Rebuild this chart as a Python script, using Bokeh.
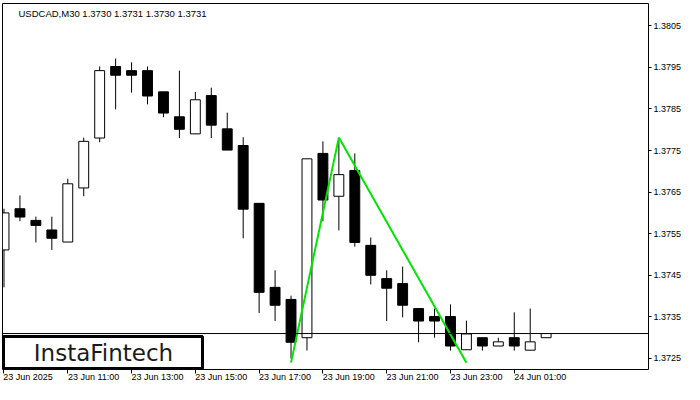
from bokeh.plotting import figure
from bokeh.models import (FixedTicker, NumeralTickFormatter, Span, Label,
                          BoxAnnotation, Range1d, ColumnDataSource, LinearAxis)
from bokeh.embed import file_html
from bokeh.resources import INLINE

# ---- data (USDCAD M30) ----
opens = [1.37511, 1.37610, 1.37582, 1.37559, 1.37530, 1.37660, 1.37780, 1.37952,
         1.37942, 1.37942, 1.37891, 1.37831, 1.37790, 1.37882, 1.37802, 1.37762,
         1.37623, 1.37421, 1.37392, 1.37300, 1.37743, 1.37640, 1.37702, 1.37522,
         1.37442, 1.37430, 1.37370, 1.37351, 1.37351, 1.37271, 1.37300, 1.37280,
         1.37300, 1.37270, 1.37300]
highs = [1.37610, 1.37642, 1.37591, 1.37591, 1.37682, 1.37781, 1.37952, 1.37971,
         1.37962, 1.37952, 1.37891, 1.37942, 1.37891, 1.37901, 1.37841, 1.37782,
         1.37623, 1.37462, 1.37401, 1.37730, 1.37772, 1.37774, 1.37743, 1.37541,
         1.37462, 1.37471, 1.37370, 1.37370, 1.37380, 1.37341, 1.37300, 1.37300,
         1.37361, 1.37370, 1.37310]
lows = [1.37421, 1.37580, 1.37529, 1.37511, 1.37530, 1.37640, 1.37770, 1.37849,
        1.37889, 1.37861, 1.37830, 1.37780, 1.37790, 1.37780, 1.37751, 1.37539,
        1.37359, 1.37340, 1.37250, 1.37269, 1.37580, 1.37558, 1.37519, 1.37428,
        1.37340, 1.37349, 1.37289, 1.37300, 1.37269, 1.37271, 1.37269, 1.37280,
        1.37269, 1.37270, 1.37300]
closes = [1.37600, 1.37590, 1.37570, 1.37539, 1.37670, 1.37772, 1.37942, 1.37931,
          1.37931, 1.37881, 1.37840, 1.37801, 1.37872, 1.37811, 1.37751, 1.37609,
          1.37409, 1.37378, 1.37289, 1.37730, 1.37631, 1.37692, 1.37529, 1.37450,
          1.37419, 1.37378, 1.37340, 1.37340, 1.37280, 1.37309, 1.37280, 1.37290,
          1.37280, 1.37290, 1.37310]

x_tick_index = [0, 4, 8, 12, 16, 20, 24, 28, 32]
x_tick_labels = ["23 Jun 2025", "23 Jun 11:00", "23 Jun 13:00", "23 Jun 15:00",
                 "23 Jun 17:00", "23 Jun 19:00", "23 Jun 21:00", "23 Jun 23:00",
                 "24 Jun 01:00"]
y_ticks = [1.3725, 1.3735, 1.3745, 1.3755, 1.3765, 1.3775, 1.3785, 1.3795, 1.3805]

pattern_index = [18, 21, 29]
pattern_price = [1.37240, 1.37781, 1.37240]

bid_price = 1.3731
chart_title = "USDCAD,M30  1.3730 1.3731 1.3730 1.3731"
logo_text = "InstaFintech"

# ---- derived ----
n = len(opens)
xs = list(range(n))
tops = [max(o, c) for o, c in zip(opens, closes)]
bottoms = [min(o, c) for o, c in zip(opens, closes)]
colors = ["white" if c >= o else "black" for o, c in zip(opens, closes)]
src = ColumnDataSource(dict(x=xs, high=highs, low=lows, top=tops, bottom=bottoms, color=colors))

FONT = "Liberation Sans"
W, H = 684, 384
BL, BT, BR, BB = 2, 3, 33, 15
FW, FH = W - BL - BR, H - BT - BB

p = figure(width=W, height=H, output_backend="svg", toolbar_location=None,
           x_range=Range1d(-0.094, -0.094 + FW / 16.02),
           y_range=Range1d(1.381034 - FH * 0.00002404, 1.381034),
           x_axis_location=None, y_axis_location="right",
           min_border_left=BL, min_border_top=BT, min_border_right=BR, min_border_bottom=BB)
p.background_fill_color = "white"
p.border_fill_color = "white"
p.outline_line_color = "black"
p.outline_line_width = 1
for g in p.grid:
    g.visible = False

# right price axis
ya = p.yaxis[0]
ya.ticker = FixedTicker(ticks=y_ticks)
ya.formatter = NumeralTickFormatter(format="0.0000")
ya.axis_line_color = None
ya.major_tick_out = 3
ya.major_tick_in = 0
ya.major_tick_line_color = "black"
ya.minor_tick_out = 0
ya.minor_tick_in = 0
ya.major_label_standoff = 2
ya.major_label_text_font = FONT
ya.major_label_text_font_size = "9px"
ya.major_label_text_color = "black"

# bottom time axis: labels start at the tick like MT4
label_shift = [1.5] + [1.625] * (len(x_tick_index) - 1)
label_pos = [t + s for t, s in zip(x_tick_index, label_shift)]
xa = LinearAxis(ticker=FixedTicker(ticks=label_pos, minor_ticks=x_tick_index),
                major_label_overrides={pos: lab for pos, lab in zip(label_pos, x_tick_labels)})
xa.axis_line_color = None
xa.major_tick_out = 0
xa.major_tick_in = 0
xa.minor_tick_out = 4
xa.minor_tick_in = 0
xa.minor_tick_line_color = "black"
xa.major_label_standoff = -2
xa.major_label_text_font = FONT
xa.major_label_text_font_size = "9px"
xa.major_label_text_color = "black"
p.add_layout(xa, "below")

# candles
p.segment(x0="x", y0="low", x1="x", y1="high", source=src, line_color="black", line_width=1)
p.vbar(x="x", width=0.62, top="top", bottom="bottom", source=src,
       fill_color="color", line_color="black", line_width=1)

# bid line
p.add_layout(Span(location=bid_price, dimension="width", line_color="black", line_width=1))

# pattern
p.line(pattern_index, pattern_price, line_color="#00e600", line_width=2)

# title
p.add_layout(Label(x=16, y=FH - 4, x_units="screen", y_units="screen", text=chart_title,
                   text_font=FONT, text_font_size="9.5px", text_color="black",
                   text_baseline="top", text_align="left"))

# price tag on the axis
p.add_layout(Label(x=FW + 1, y=bid_price, x_units="screen", y_units="data",
                   text=f"{bid_price:.4f}", text_font=FONT, text_font_size="9px",
                   text_color="white", background_fill_color="black",
                   text_baseline="middle", text_align="left",
                   padding=dict(left=3, right=3, top=1, bottom=1)))

# logo box
p.add_layout(BoxAnnotation(left=1, right=200, bottom=1, top=33,
                           left_units="screen", right_units="screen",
                           bottom_units="screen", top_units="screen",
                           fill_color="white", fill_alpha=1.0,
                           line_color="black", line_width=3, line_alpha=1.0))
p.add_layout(Label(x=101, y=17, x_units="screen", y_units="screen", text=logo_text,
                   text_font="DejaVu Sans", text_font_size="23px", text_color="#1a1a1a",
                   text_align="center", text_baseline="middle"))

open("out.html", "w").write(file_html(p, INLINE))
